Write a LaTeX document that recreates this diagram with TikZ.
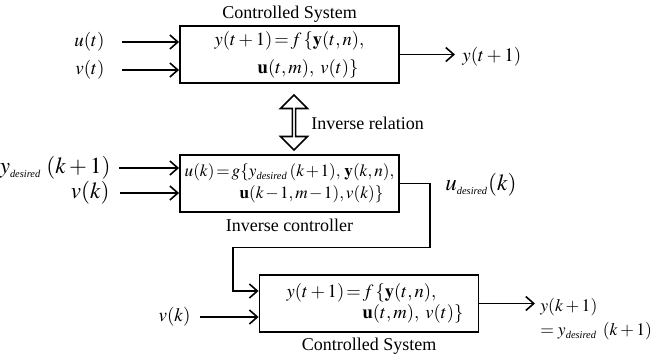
\documentclass[tikz,border=0pt]{standalone}
\usepackage{mathptmx}
\usepackage[no-math]{fontspec}
\setmainfont{Liberation Serif}
\usepackage{tikz}
\usetikzlibrary{shapes.arrows, arrows.meta, positioning, calc}
\newcommand{\des}{\mbox{\fontsize{5.2}{6}\selectfont\itshape desired}}
\tikzset{
  block/.style={rectangle, draw=black, line width=0.9pt, minimum width=109.5pt, minimum height=28.5pt, inner sep=0pt},
  title/.style={font=\fontsize{9}{11}\selectfont, inner sep=1pt},
  lbl/.style={font=\fontsize{9.5}{11}\selectfont, inner sep=1pt},
  biglbl/.style={font=\fontsize{11.5}{13}\selectfont, inner sep=1pt},
  arrow/.style={-{Straight Barb[length=4pt,width=7pt]}, line width=0.8pt},
}

\begin{document}
\begin{tikzpicture}[x=0.5pt, y=-0.5pt]
\useasboundingbox (0,0) rectangle (666,360);
% controlled system (model)
\node[block, align=left, font=\fontsize{9.3}{14}\selectfont] (sys) at (289.5,54.5)
  {$y(t+1)\!=\! f\,\{\mathbf{y}(t,n),$\\\hspace*{21.5pt}$\mathbf{u}(t,m),\; v(t)\}$};
\node[title, above=0pt of sys] (systitle) {Controlled System};
\node[lbl, anchor=east] (ut) at (107,42) {$u(t)$};
\node[lbl, anchor=east] (vt) at (107,70) {$v(t)$};
\node[lbl, anchor=west] (yt) at (460,57) {$y(t+1)$};
\draw[arrow, shorten <=7.5pt] (ut.east) -- (ut.east -| sys.west);
\draw[arrow, shorten <=7.5pt] (vt.east) -- (vt.east -| sys.west);
\draw[arrow, shorten >=2.5pt] (sys.east) -- (sys.east -| yt.west);
% inverse relation
\node[double arrow, draw, line width=0.8pt, rotate=90, minimum height=27.5pt, minimum width=13.5pt, double arrow head extend=3pt, inner sep=0pt] (rel) at (294,122.5) {};
\node[title, anchor=west] (reltext) at (309,123) {Inverse relation};
% inverse controller
\node[block, align=left, font=\fontsize{8.6}{11}\selectfont] (ctrl) at (289.5,183.5)
  {$\medmuskip=1.5mu u(k)\!=\! g\{y_{\des}\,(k+1),\,\mathbf{y}(k,n),$\\\hspace*{27.5pt}$\medmuskip=1.5mu \mathbf{u}(k-1,m-1), v(k)\}$};
\node[title, below=2pt of ctrl] (ctrltitle) {Inverse controller};
\node[biglbl, anchor=east] (yd) at (113,168) {$y_{\des}\;(k+1)$};
\node[biglbl, anchor=east] (vk) at (112,193) {$v(k)$};
\node[biglbl, anchor=west] (ud) at (443,185) {$u_{\des}(k)$};
\draw[arrow, shorten <=3pt] (yd.east) -- (yd.east -| ctrl.west);
\draw[arrow, shorten <=4pt] (vk.east) -- (vk.east -| ctrl.west);
% controlled system (plant)
\node[block, align=left, font=\fontsize{9.3}{10.5}\selectfont] (plant) at (369,303.5)
  {\hspace*{6pt}$y(t+1)\!=\! f\,\{\mathbf{y}(t,n),$\\\hspace*{44pt}$\mathbf{u}(t,m),\; v(t)\}$};
\node[title, below=1.5pt of plant] (planttitle) {Controlled System};
\node[lbl, anchor=east] (vk2) at (193,317) {$v(k)$};
\node[lbl, anchor=west, align=left, font=\fontsize{8.8}{12}\selectfont] (yk) at (538,319)
  {$y(k+1)$\\$=y_{\des}\;\,(k+1)$};
\draw[arrow] (ctrl.east) -- ++(30,0) |- ++(-197,64) |- ([yshift=6.25pt]plant.west);
\draw[arrow, shorten <=3.5pt] (vk2.east) -- (vk2.east -| plant.west);
\draw[arrow, shorten >=1.5pt] (plant.east) -- (plant.east -| yk.west);
\end{tikzpicture}
\end{document}
